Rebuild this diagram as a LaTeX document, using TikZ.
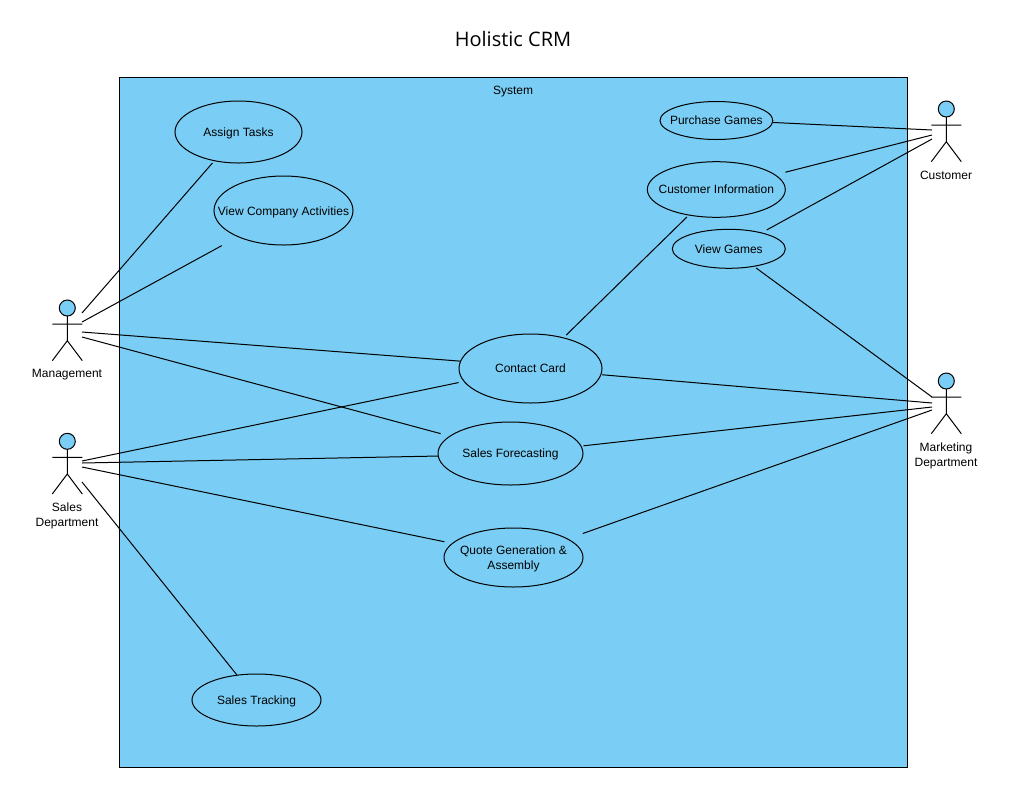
\documentclass[tikz,border=0pt]{standalone}
\usepackage{fontspec}
\setmainfont{Liberation Sans}
\newfontfamily\titlefont{Open Sans}
\usetikzlibrary{shapes.geometric}
\definecolor{sysblue}{HTML}{7ACEF5}
\tikzset{
  base/.style={x=1pt,y=-1pt,line width=1pt,font=\fontsize{12}{15}\selectfont},
  usecase/.style={draw=black,fill=sysblue,shape=ellipse,inner sep=0pt,outer sep=0pt,line width=1pt},
  lbl/.style={align=center,inner sep=0pt,font=\fontsize{12}{15}\selectfont},
  conn/.style={draw=black,line width=1pt},
  pics/actor/.style={code={
    \node[draw=black,fill=sysblue,circle,minimum size=16pt,inner sep=0pt,line width=1pt] (-head) at (0,0) {};
    \coordinate (-neck) at (0,8);
    \coordinate (-hip) at (0,32.7);
    \coordinate (-al) at (-15,16);
    \coordinate (-ar) at (15,16);
    \coordinate (-fl) at (-15,52.7);
    \coordinate (-fr) at (15,52.7);
    \draw (-neck) -- (-hip) (-al) -- (-ar) (-fl) -- (-hip) -- (-fr);
  }}
}
\newcommand{\uc}[7][0]{\node[usecase,minimum width=#5pt,minimum height=#6pt] (#2) at (#3,#4) {};\node[lbl,yshift=-#1pt] (#2t) at (#3,#4) {#7};}
\begin{document}
\begin{tikzpicture}[base]
\useasboundingbox (0,0) rectangle (1013,807);
\node[font=\titlefont\fontsize{20}{24}\selectfont,inner sep=0pt] (title) at (513,38.5) {Holistic CRM};
\node[draw=black,fill=sysblue,line width=1pt,minimum width=788pt,minimum height=690pt,inner sep=0pt] (system) at (513.5,422.5) {};
\node[lbl] (systemt) at (513,92) {System};

\uc[1]{assign}{238.5}{132}{127}{62}{Assign Tasks}
\uc[2]{viewco}{283.5}{210.5}{139}{69}{View Company Activities}
\uc{purchase}{716.4}{120.5}{112.8}{38}{Purchase Games}
\uc{custinfo}{716.3}{189.5}{138}{55.6}{Customer Information}
\uc{games}{728.8}{248.8}{113}{39}{View Games}
\uc{contact}{530.5}{368.5}{143}{69}{Contact Card}
\uc[1]{forecast}{510.5}{453.5}{145}{63}{Sales Forecasting}
\uc[1]{quote}{513.5}{557.5}{139}{59}{Quote Generation \&\\Assembly}
\uc[1]{tracking}{256.5}{700}{129}{52}{Sales Tracking}

\pic (mg) at (67.3,308) {actor};
\pic (sd) at (67.3,441.3) {actor};
\pic (cu) at (946.3,109) {actor};
\pic (md) at (946.3,381) {actor};
\node[lbl] (mgt) at (67,375) {Management};
\node[lbl] (sdt) at (67,515.5) {Sales\\Department};
\node[lbl] (cut) at (946,175) {Customer};
\node[lbl] (mdt) at (946,455.5) {Marketing\\Department};

\coordinate (mg1) at (82,313);
\coordinate (mg2) at (82,322);
\coordinate (mg3) at (82,332);
\coordinate (mg4) at (82,337);
\coordinate (sd1) at (82,461);
\coordinate (sd2) at (82,463);
\coordinate (sd3) at (82,467);
\coordinate (sd4) at (82,482);
\coordinate (cu1) at (932,130);
\coordinate (cu2) at (932,135);
\coordinate (cu3) at (932,139);
\coordinate (md1) at (932,397);
\coordinate (md2) at (932,403);
\coordinate (md3) at (932,407);
\coordinate (md4) at (932,410);

\draw[conn,shorten <=3pt] (assign.230.6) -- (mg1);
\draw[conn,shorten <=18.7pt] (viewco.210) -- (mg2);
\draw[conn] (contact.174.8) -- (mg3);
\draw[conn,shorten <=9.7pt] (forecast.164.5) -- (mg4);
\draw[conn,shorten <=5.7pt] (contact.191.5) -- (sd1);
\draw[conn] (forecast.182) -- (sd2);
\draw[conn,shorten <=8.2pt] (quote.167.4) -- (sd3);
\draw[conn] (tracking.128) -- (sd4);
\draw[conn] (purchase.-2.6) -- (cu1);
\draw[conn,shorten <=10.7pt] (custinfo.14.3) -- (cu2);
\draw[conn,shorten <=6pt] (games.26.8) -- (cu3);
\draw[conn,shorten <=2.9pt] (games.-35.2) -- (md1);
\draw[conn,shorten <=1.2pt] (contact.-5.2) -- (md2);
\draw[conn,shorten <=2.5pt] (forecast.6.7) -- (md3);
\draw[conn,shorten <=16.3pt] (quote.19.7) -- (md4);
\draw[conn,shorten <=2.8pt,shorten >=4pt] (custinfo.223.2) -- (contact.43.3);
\end{tikzpicture}
\end{document}
